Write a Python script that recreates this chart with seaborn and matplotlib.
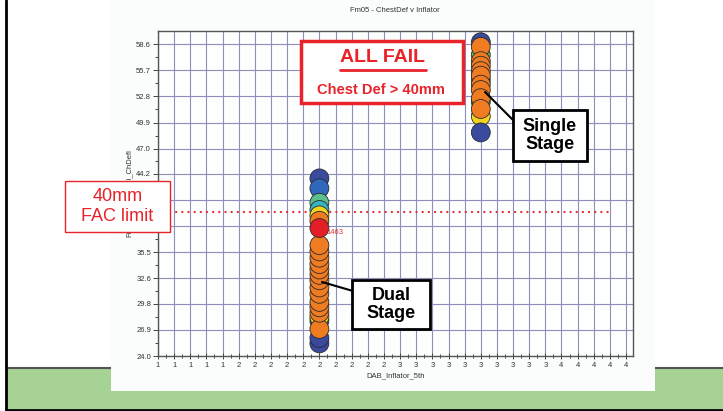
import matplotlib
matplotlib.use("Agg")
import matplotlib.pyplot as plt
from matplotlib.patches import Rectangle
from matplotlib.lines import Line2D
from matplotlib.ticker import FixedLocator
import pandas as pd
import seaborn as sns

sns.set_theme(style="white")
plt.rcParams["font.family"] = ["Liberation Sans", "DejaVu Sans"]

# Inflator setting of each group
dual_x = 2.0
single_x = 3.0

# Chest deflection (mm) per test and its colour band, listed in drawing order
dual_defl = [25.4, 26.0, 27.9, 28.3, 43.7, 42.6, 41.0, 40.2, 39.6,
             27.0, 28.8, 29.4, 30.0, 30.9, 31.6, 32.4, 33.0, 33.6,
             34.2, 34.9, 35.6, 36.3, 39.0, 38.2]
dual_band = ["navy", "navy", "blue", "yellow", "navy", "blue", "teal", "cyan", "yellow",
             "orange", "orange", "orange", "orange", "orange", "orange", "orange", "orange", "orange",
             "orange", "orange", "orange", "orange", "orange", "red"]

single_defl = [50.6, 48.8, 58.8, 57.4, 54.6, 52.2,
               58.3, 56.7, 56.2, 55.6, 55.1, 54.1, 53.5, 52.6, 51.4]
single_band = ["yellow", "navy", "navy", "green", "green", "green",
               "orange", "orange", "orange", "orange", "orange", "orange", "orange", "orange", "orange"]

band_colors = {
    "navy": "#3a4a9f", "blue": "#2f68bd", "teal": "#5cbf8c", "cyan": "#36b4c6",
    "yellow": "#f2d31d", "green": "#6bb647", "orange": "#f07c22", "red": "#e31e26",
}

highlight_test = "1463"
highlight_defl = 38.2
fac_limit = 40.0

y_ticks = [24.0, 26.9, 29.8, 32.6, 35.5, 38.4, 41.3, 44.2, 47.0, 49.9, 52.8, 55.7, 58.6]
x_ticks = [1.0, 1.1, 1.2, 1.3, 1.4, 1.5, 1.6, 1.7, 1.8, 1.9,
           2.0, 2.1, 2.2, 2.3, 2.4, 2.5, 2.6, 2.7, 2.8, 2.9,
           3.0, 3.1, 3.2, 3.3, 3.4, 3.5, 3.6, 3.7, 3.8, 3.9]
x_tick_labels = ["1", "1", "1", "1", "1", "2", "2", "2", "2", "2",
                 "2", "2", "2", "2", "2", "3", "3", "3", "3", "3",
                 "3", "3", "3", "3", "3", "4", "4", "4", "4", "4"]

df = pd.DataFrame({
    "DAB_Inflator_5th": [dual_x] * len(dual_defl) + [single_x] * len(single_defl),
    "ChDefl": dual_defl + single_defl,
    "Band": dual_band + single_band,
})

W, H = 723, 411
fig = plt.figure(figsize=(W / 100, H / 100), dpi=100)
fig.patch.set_facecolor("white")


def fx(x):
    return x / W


def fy(y):
    return 1 - y / H


def frect(x0, y0, x1, y1, **kw):
    return Rectangle((fx(x0), fy(y1)), (x1 - x0) / W, (y1 - y0) / H,
                     transform=fig.transFigure, **kw)


def fline(x0, y0, x1, y1, **kw):
    return Line2D([fx(x0), fx(x1)], [fy(y0), fy(y1)], transform=fig.transFigure, **kw)


# slide background: green footer band, borders and the white chart panel
fig.add_artist(frect(7, 367, 723, 409, facecolor="#a6d294", edgecolor="none", zorder=-3))
fig.add_artist(fline(7, 367.5, 723, 367.5, color="#555555", lw=1.5, zorder=-2.5))
fig.add_artist(fline(6, 409.5, 723, 409.5, color="black", lw=2, zorder=-2.5))
fig.add_artist(fline(6.5, 0, 6.5, 410, color="black", lw=2, zorder=-2.5))
fig.add_artist(frect(111, 0, 655, 391, facecolor="#fbfcfc", edgecolor="none", zorder=-2))

ax = fig.add_axes([fx(158), fy(356), (633 - 158) / W, (356 - 31) / H])
ax.set_facecolor("#fdfefe")

sns.scatterplot(data=df, x="DAB_Inflator_5th", y="ChDefl", hue="Band", palette=band_colors,
                s=185, edgecolor="#2a2a2a", linewidth=0.6, legend=False, ax=ax, zorder=3)

ax.set_xlim(1.0, 3.943)
ax.set_ylim(24.0, 60.05)
ax.xaxis.set_major_locator(FixedLocator(x_ticks))
ax.set_xticklabels(x_tick_labels)
ax.xaxis.set_minor_locator(FixedLocator([t + 0.05 for t in x_ticks]))
ax.yaxis.set_major_locator(FixedLocator(y_ticks))
ax.set_yticklabels([f"{v:.1f}" for v in y_ticks])
ax.yaxis.set_minor_locator(FixedLocator([(a + b) / 2 for a, b in zip(y_ticks[:-1], y_ticks[1:])]))

ax.set_axisbelow(True)
ax.grid(True, which="major", color="#8e8ebb", lw=0.8)
for sp in ax.spines.values():
    sp.set_color("#555555")
    sp.set_linewidth(1.0)
ax.tick_params(axis="x", which="both", direction="inout", length=4, width=0.7,
               color="#444444", labelsize=5.5, labelcolor="#333333", pad=2, bottom=True)
ax.tick_params(axis="x", which="minor", length=3)
ax.tick_params(axis="y", which="both", direction="out", length=3.5, width=0.7,
               color="#444444", labelsize=5.5, labelcolor="#333333", pad=1.5, left=True)
ax.tick_params(axis="y", which="minor", length=2.5)

ax.set_xlabel("DAB_Inflator_5th", fontsize=5.5, color="#333333", labelpad=3)
ax.set_ylabel("Fm05_Dummy_Fi_ChDefl", fontsize=5.5, color="#333333", labelpad=2)
fig.text(fx(395), fy(11), "Fm05 - ChestDef v Inflator", fontsize=5.5, color="#333333",
         ha="center", va="center")

# label for the highlighted test
ax.annotate(highlight_test, (dual_x, highlight_defl), xytext=(5, -3), textcoords="offset points",
            fontsize=5.5, color="#e0333a", va="center", ha="left", zorder=4)

# 40 mm FAC limit line
ax.axhline(fac_limit, xmin=(170 - 158) / 475, xmax=(611 - 158) / 475, color="#ee2a30",
           lw=1.7, linestyle=(0, (0.01, 2.6)), dash_capstyle="round", zorder=2.5)

red = "#e8232a"
# limit callout
fig.add_artist(frect(65, 181, 170, 232, facecolor="white", edgecolor=red, lw=1.0, zorder=5))
fig.text(fx(117.5), fy(206.5), f"{fac_limit:.0f}mm\nFAC limit", fontsize=13, color=red,
         ha="center", va="center", zorder=6)

# all-fail callout
fig.add_artist(frect(301, 41, 463, 103, facecolor="white", edgecolor=red, lw=2.5, zorder=5))
fig.text(fx(382), fy(57), "ALL FAIL", fontsize=14, fontweight="bold", color=red,
         ha="center", va="center", zorder=6)
fig.add_artist(fline(340, 70, 426, 70, color=red, lw=2, zorder=6))
fig.text(fx(381), fy(90), f"Chest Def > {fac_limit:.0f}mm", fontsize=10.5, fontweight="bold",
         color=red, ha="center", va="center", zorder=6)

# group callouts
fig.add_artist(fline(485, 92, 514, 121, color="black", lw=1.5, zorder=4))
fig.add_artist(frect(513, 110, 587, 161, facecolor="white", edgecolor="black", lw=2, zorder=5))
fig.text(fx(550), fy(135.5), "Single\nStage", fontsize=13, fontweight="bold", color="black",
         ha="center", va="center", linespacing=1.05, zorder=6)

fig.add_artist(fline(322, 282, 353, 291, color="black", lw=1.5, zorder=4))
fig.add_artist(frect(352, 280, 430, 329, facecolor="white", edgecolor="black", lw=2, zorder=5))
fig.text(fx(391), fy(304.5), "Dual\nStage", fontsize=13, fontweight="bold", color="black",
         ha="center", va="center", linespacing=1.05, zorder=6)

fig.savefig("out.png", dpi=100)
